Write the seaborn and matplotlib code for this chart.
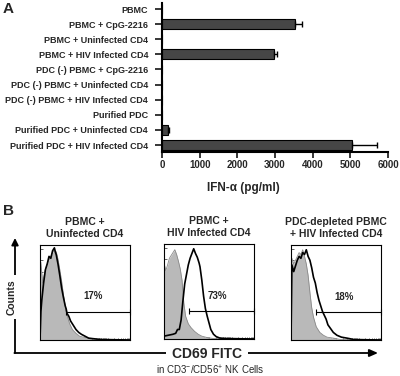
import numpy as np
import matplotlib
matplotlib.use("Agg")
import matplotlib.pyplot as plt
import seaborn as sns

# ---------------- data ----------------
categories = [
    "PBMC",
    "PBMC + CpG-2216",
    "PBMC + Uninfected CD4",
    "PBMC + HIV Infected CD4",
    "PDC (-) PBMC + CpG-2216",
    "PDC (-) PBMC + Uninfected CD4",
    "PDC (-) PBMC + HIV Infected CD4",
    "Purified PDC",
    "Purified PDC + Uninfected CD4",
    "Purified PDC + HIV Infected CD4",
]
ifn_values = [0, 3530, 0, 2970, 0, 0, 0, 0, 160, 5050]
ifn_errors = [0, 200, 0, 70, 0, 0, 0, 0, 20, 660]
x_ticks = [0, 1000, 2000, 3000, 4000, 5000, 6000]

panel_titles = ["PBMC +\nUninfected CD4", "PBMC +\nHIV Infected CD4",
                "PDC-depleted PBMC\n+ HIV Infected CD4"]
gate_percent = ["17%", "73%", "18%"]
gate_start = [28.5, 28, 28]
gate_level = [30, 29, 29]

# control (filled gray) histograms: position (% of axis width), height (% of axis height)
ctrl_x = [
    [0, 1, 2, 3, 4, 6, 8, 10, 12, 14, 16, 17, 18, 20, 22, 24, 26, 28, 30, 33, 36, 40, 44, 48, 53, 58, 65, 100],
    [0, 2, 4, 6, 8, 10, 12, 14, 16, 18, 20, 22, 24, 27, 30, 34, 38, 42, 48, 55, 100],
    [0, 1, 3, 5, 7, 9, 11, 13, 15, 17, 19, 21, 23, 25, 28, 32, 36, 40, 47, 55, 100],
]
ctrl_y = [
    [62, 82, 70, 60, 66, 74, 80, 84, 88, 92, 95, 90, 93, 85, 74, 62, 48, 36, 26, 17, 11, 7, 4, 3, 2, 1, 0.5, 0],
    [80, 72, 78, 85, 88, 91, 94, 89, 82, 74, 62, 38, 24, 16, 12, 8, 5, 3, 1.5, 0.5, 0],
    [70, 86, 80, 84, 88, 92, 90, 95, 88, 80, 68, 50, 34, 24, 14, 8, 5, 3, 2, 0.5, 0],
]
# stained (black line) histograms
stain_x = [
    [0, 1, 2, 4, 6, 8, 10, 12, 14, 16, 17, 18, 20, 22, 24, 26, 28, 29, 30, 32, 34, 36, 38, 40, 43, 46, 50, 54, 58, 63, 70, 100],
    [0, 5, 10, 13, 15, 17, 19, 21, 23, 25, 27, 29, 31, 33, 35, 37, 39, 40, 42, 44, 46, 48, 50, 52, 55, 58, 62, 70, 100],
    [0, 1, 3, 5, 7, 9, 11, 13, 15, 17, 19, 21, 23, 25, 27, 29, 31, 33, 35, 37, 39, 41, 44, 47, 51, 56, 62, 70, 100],
]
stain_y = [
    [0, 30, 42, 60, 74, 80, 88, 86, 94, 97, 93, 90, 80, 68, 55, 45, 36, 33, 28, 25, 20, 17, 14, 11, 8, 6, 4, 2, 1.5, 1, 0.5, 0],
    [3, 4, 5, 6, 10, 10, 20, 40, 58, 68, 78, 85, 90, 95, 90, 86, 80, 76, 62, 45, 32, 24, 17, 10, 5, 2.5, 1, 0.5, 0],
    [0, 79, 72, 78, 84, 88, 86, 92, 90, 95, 88, 84, 76, 66, 60, 50, 42, 36, 30, 26, 22, 16, 12, 8, 5, 3, 2, 0.5, 0],
]

# ---------------- style ----------------
sns.set_style("white")
plt.rcParams["font.family"] = ["Liberation Sans", "DejaVu Sans"]
plt.rcParams["mathtext.fontset"] = "custom"
plt.rcParams["mathtext.rm"] = "Liberation Sans"
plt.rcParams["mathtext.it"] = "Liberation Sans"

W, H = 400, 376
fig = plt.figure(figsize=(W / 100, H / 100), dpi=100)

def fbox(x0, y0, x1, y1):
    return [x0 / W, 1 - y1 / H, (x1 - x0) / W, (y1 - y0) / H]

# ---------------- panel A ----------------
axA = fig.add_axes(fbox(162, 3, 388, 152))
sns.barplot(x=ifn_values, y=categories, orient="h", color="#464646", saturation=1,
            edgecolor="black", linewidth=0.8, width=0.66, errorbar=None, ax=axA)
pos = np.arange(len(categories))
vals = np.array(ifn_values, dtype=float)
errs = np.array(ifn_errors, dtype=float)
m = errs > 0
axA.errorbar(vals[m], pos[m], xerr=[np.zeros(m.sum()), errs[m]], fmt="none",
             ecolor="black", elinewidth=1.0, capsize=2.5, capthick=1.0)
axA.set_xlim(0, 6000)
axA.set_ylim(len(categories) - 0.54, -0.4)
axA.set_xticks(x_ticks)
axA.set_xticklabels([str(t) for t in x_ticks], fontsize=7, fontweight="bold")
axA.set_yticks(pos)
axA.set_yticklabels(categories, fontsize=6.5, fontweight="bold")
for s in ["top", "right"]:
    axA.spines[s].set_visible(False)
for s in ["left", "bottom"]:
    axA.spines[s].set_linewidth(1.5)
    axA.spines[s].set_color("black")
axA.tick_params(axis="y", length=5, width=1.3, pad=5, direction="out", left=True)
axA.tick_params(axis="x", length=4, width=1.3, pad=2, direction="out", bottom=True)
axA.set_xlabel("IFN-α (pg/ml)", fontsize=8.5, fontweight="bold")
axA.xaxis.set_label_coords(0.36, -0.2)
axA.set_ylabel("")

fig.text(3 / W, 1 - 9 / H, "A", fontsize=11, fontweight="bold", va="center", ha="left")
fig.text(3 / W, 1 - 211 / H, "B", fontsize=11, fontweight="bold", va="center", ha="left")

# ---------------- panel B ----------------
boxes = [(40, 245, 130, 340), (164, 244, 254, 339), (291, 245, 381, 340)]
minor_x = [25 * (d + np.log10(k)) for d in range(4) for k in range(1, 10)] + [100]
for i, b in enumerate(boxes):
    ax = fig.add_axes(fbox(*b))
    ax.fill_between(ctrl_x[i], ctrl_y[i], 0, color="#b9b9b9", linewidth=0)
    sns.lineplot(x=ctrl_x[i], y=ctrl_y[i], color="#8a8a8a", linewidth=0.6, ax=ax,
                 sort=False, estimator=None)
    sns.lineplot(x=stain_x[i], y=stain_y[i], color="black", linewidth=1.2, ax=ax,
                 sort=False, estimator=None)
    ax.plot([gate_start[i], 100], [gate_level[i], gate_level[i]], color="black",
            linewidth=0.8, marker="|", markersize=4, markeredgewidth=0.8, clip_on=False)
    ax.text(gate_start[i] + 31, gate_level[i] + 16, gate_percent[i], fontsize=7,
            fontweight="bold", ha="center", va="center")
    ax.set_xlim(0, 100)
    ax.set_ylim(0, 100)
    ax.set_xticks(minor_x)
    ax.set_yticks([0, 12, 24, 36, 48, 60, 72, 84, 96])
    ax.tick_params(direction="in", length=1.8, width=0.5, labelbottom=False,
                   labelleft=False, bottom=True, left=True)
    for s in ax.spines.values():
        s.set_linewidth(0.8)
        s.set_color("black")
    ax.set_title(panel_titles[i], fontsize=7.5, fontweight="bold", pad=6, linespacing=1.25)

# outer axes arrows
fig.add_artist(matplotlib.patches.FancyArrowPatch(
    (15 / W, 1 - 353 / H), (15 / W, 1 - 238 / H), transform=fig.transFigure,
    arrowstyle="-|>,head_length=4,head_width=2", color="black", linewidth=1.3,
    shrinkA=0, shrinkB=0))
fig.add_artist(matplotlib.patches.FancyArrowPatch(
    (14.4 / W, 1 - 353 / H), (378 / W, 1 - 353 / H), transform=fig.transFigure,
    arrowstyle="-|>,head_length=5,head_width=2.2", color="black", linewidth=1.3,
    shrinkA=0, shrinkB=0))
fig.text(12 / W, 1 - 297 / H, "Counts", rotation=90, fontsize=7.5, fontweight="bold",
         ha="center", va="center",
         bbox=dict(facecolor="white", edgecolor="none", pad=3))
fig.text(207 / W, 1 - 354 / H, "CD69 FITC", fontsize=10, fontweight="bold",
         ha="center", va="center",
         bbox=dict(facecolor="white", edgecolor="none", pad=4))
fig.text(210 / W, 1 - 370 / H, r"in CD3$^{-}$/CD56$^{+}$ NK Cells", fontsize=7,
         ha="center", va="center")

fig.savefig("out.png", dpi=100)
